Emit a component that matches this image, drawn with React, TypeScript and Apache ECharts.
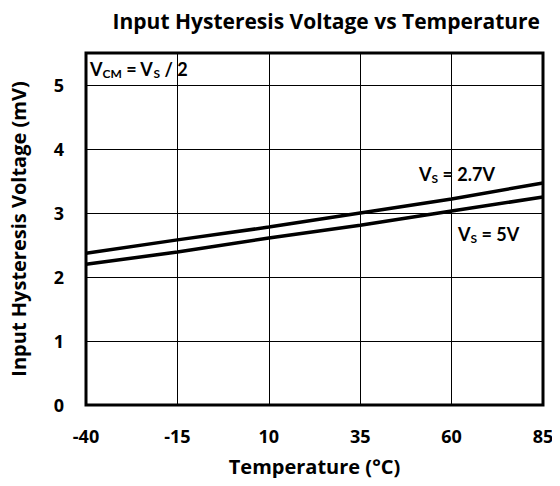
import React, { useEffect, useRef } from "react";
import * as echarts from "echarts";

const temperatures = ["-40", "-15", "10", "35", "60", "85"];
const vs27 = [2.37, 2.58, 2.78, 3.0, 3.22, 3.47];
const vs5 = [2.2, 2.39, 2.61, 2.81, 3.03, 3.25];
const yMin = 0;
const yMax = 5.5;
const yStep = 1;

const FONT = "Open Sans";
const ANNOT_FONT = "Lato";

export default function App() {
  const ref = useRef<HTMLDivElement>(null);
  useEffect(() => {
    if (!ref.current) return;
    const chart = echarts.init(ref.current, undefined, { renderer: "svg" });
    const subRich = {
      b: { fontFamily: ANNOT_FONT, fontWeight: "bold", fontSize: 18, color: "#000", lineHeight: 22 },
      s: { fontFamily: ANNOT_FONT, fontWeight: "bold", fontSize: 12, color: "#000", lineHeight: 22, padding: [9, 0, 0, 0] },
    };
    chart.setOption({
      animation: false,
      backgroundColor: "#fff",
      title: {
        text: "Input Hysteresis Voltage vs Temperature",
        right: 15,
        top: 5,
        textStyle: { fontFamily: FONT, fontWeight: "bold", fontSize: 21, color: "#000" },
      },
      grid: {
        left: 86,
        right: 17,
        top: 53,
        bottom: 81,
        show: true,
        borderColor: "#000",
        borderWidth: 3,
        backgroundColor: "#fff",
      },
      xAxis: {
        type: "category",
        data: temperatures,
        boundaryGap: false,
        name: "Temperature (°C)",
        nameLocation: "middle",
        nameGap: 51,
        nameTextStyle: { fontFamily: FONT, fontWeight: "bold", fontSize: 20, color: "#000" },
        axisLine: { show: false },
        axisTick: { show: false },
        axisLabel: { fontFamily: FONT, fontWeight: "bold", fontSize: 18, color: "#000", margin: 22 },
        splitLine: { show: true, lineStyle: { color: "#000", width: 1 } },
      },
      yAxis: {
        type: "value",
        min: yMin,
        max: yMax,
        interval: yStep,
        name: "Input Hysteresis Voltage (mV)",
        nameLocation: "middle",
        nameGap: 58,
        nameTextStyle: { fontFamily: FONT, fontWeight: "bold", fontSize: 20, color: "#000" },
        axisLine: { show: false },
        axisTick: { show: false },
        axisLabel: {
          fontFamily: FONT,
          fontWeight: "bold",
          fontSize: 18,
          color: "#000",
          margin: 22,
          showMaxLabel: false,
          formatter: (v: number) => (Number.isInteger(v) ? String(v) : ""),
        },
        splitLine: { show: true, lineStyle: { color: "#000", width: 1 } },
      },
      series: [
        {
          name: "VS = 2.7V",
          type: "line",
          data: vs27,
          symbol: "none",
          lineStyle: { color: "#000", width: 3.5 },
        },
        {
          name: "VS = 5V",
          type: "line",
          data: vs5,
          symbol: "none",
          lineStyle: { color: "#000", width: 3.5 },
        },
      ],
      graphic: [
        {
          type: "text",
          left: 90,
          top: 58,
          style: {
            text: "{b|V}{s|CM}{b| = V}{s|S}{b| / 2}",
            rich: subRich,
          },
        },
        {
          type: "text",
          left: 419,
          top: 163,
          style: {
            text: "{b|V}{s|S}{b| = 2.7V}",
            rich: subRich,
          },
        },
        {
          type: "text",
          left: 458,
          top: 223,
          style: {
            text: "{b|V}{s|S}{b| = 5V}",
            rich: subRich,
          },
        },
      ],
    });
    return () => chart.dispose();
  }, []);
  return <div ref={ref} style={{ width: 560, height: 486, margin: -8 }} />;
}
